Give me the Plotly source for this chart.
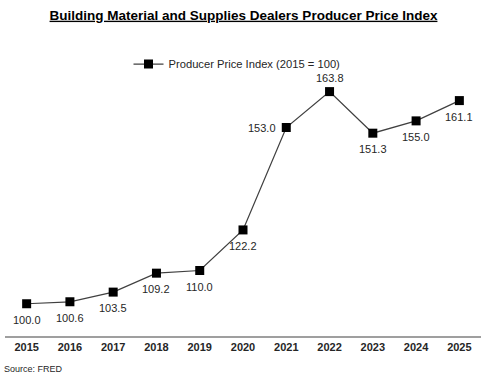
import plotly.graph_objects as go

years = ["2015", "2016", "2017", "2018", "2019", "2020", "2021", "2022", "2023", "2024", "2025"]
ppi = [100.0, 100.6, 103.5, 109.2, 110.0, 122.2, 153.0, 163.8, 151.3, 155.0, 161.1]
label_side = ["below", "below", "below", "below", "below",
              "below", "left", "above", "below", "below", "below"]

FONT = "Liberation Sans, Arial"

fig = go.Figure()
fig.add_trace(go.Scatter(
    x=years, y=ppi, mode="lines+markers",
    name="Producer Price Index (2015 = 100)",
    line=dict(color="#404040", width=1.25),
    marker=dict(symbol="square", size=9, color="black"),
    cliponaxis=False,
))

shift = {"below": (0, -16), "above": (0, 14), "left": (-24, 0)}
annotations = []
for i, (v, side) in enumerate(zip(ppi, label_side)):
    dx, dy = shift[side]
    annotations.append(dict(
        x=i, y=v, xref="x", yref="y", text=f"{v:.1f}", showarrow=False,
        xanchor="center", yanchor="middle", xshift=dx, yshift=dy,
        font=dict(family=FONT, size=11, color="#262626"),
    ))
annotations.append(dict(
    text="Source: FRED", xref="paper", yref="paper",
    x=-3 / 476, y=-32 / 266, xanchor="left", yanchor="middle", showarrow=False,
    font=dict(family=FONT, size=9, color="#262626"),
))

fig.update_layout(
    width=487, height=377,
    margin=dict(l=5, r=6, t=71, b=40),
    paper_bgcolor="white", plot_bgcolor="white",
    title=dict(
        text="<b>Building Material and Supplies Dealers Producer Price Index</b>",
        x=0.5, xanchor="center", y=1 - 15 / 377, yanchor="middle",
        font=dict(family=FONT, size=13.5, color="black", lineposition="under"),
    ),
    showlegend=True,
    legend=dict(
        orientation="h", x=0.5 - 6 / 476, xanchor="center", y=1 + 7 / 266, yanchor="middle",
        font=dict(family=FONT, size=11.2, color="#262626"),
        bgcolor="rgba(0,0,0,0)",
    ),
    xaxis=dict(
        type="category", range=[-0.5, 10.5],
        showline=False, showgrid=False, ticks="", zeroline=False,
        tickfont=dict(family=FONT, size=11, color="#262626", weight="bold"),
        ticklabelstandoff=2,
    ),
    yaxis=dict(
        range=[90, 170], showticklabels=False, showgrid=False, zeroline=False, showline=False, ticks="",
    ),
    shapes=[dict(type="line", xref="paper", yref="paper", x0=0, x1=1, y0=0, y1=0,
                 line=dict(color="#7f7f7f", width=1.5))],
    annotations=annotations,
)

fig.write_html("out.html", config={"displayModeBar": False},
               post_script="document.body.style.margin='0';")
